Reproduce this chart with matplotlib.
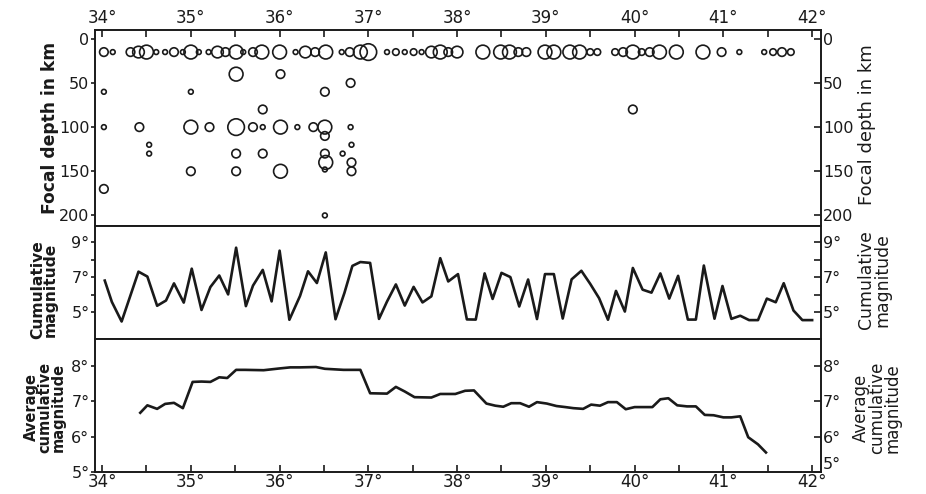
import numpy as np
import matplotlib
matplotlib.use("Agg")
import matplotlib.pyplot as plt
from matplotlib.ticker import MultipleLocator, FixedLocator, FuncFormatter

# ---- top panel: events (longitude, focal depth km, magnitude class) ----
shallow_lon = [34.02, 34.12, 34.32, 34.41, 34.50, 34.61, 34.71, 34.81, 34.91, 35.00,
               35.09, 35.20, 35.30, 35.39, 35.51, 35.59, 35.70, 35.80, 36.00, 36.18,
               36.29, 36.40, 36.52, 36.70, 36.79, 36.91, 37.00, 37.21, 37.31, 37.41,
               37.51, 37.60, 37.71, 37.81, 37.90, 38.00, 38.29, 38.49, 38.59, 38.69,
               38.78, 38.99, 39.09, 39.27, 39.38, 39.50, 39.58, 39.78, 39.87, 39.98,
               40.08, 40.17, 40.28, 40.47, 40.77, 40.98, 41.18, 41.46, 41.56, 41.66,
               41.76]
shallow_mag = [5.5, 4.5, 5.5, 6.0, 6.5, 4.5, 4.5, 5.5, 4.5, 6.5,
               4.5, 4.5, 6.0, 5.5, 6.5, 4.5, 5.5, 6.5, 6.5, 4.5,
               6.0, 5.5, 6.5, 4.5, 5.5, 6.5, 7.0, 4.5, 5.0, 4.5,
               5.0, 4.5, 6.0, 6.5, 5.5, 6.0, 6.5, 6.5, 6.5, 5.5,
               5.5, 6.5, 6.5, 6.5, 6.5, 5.0, 5.0, 5.0, 5.5, 6.5,
               5.0, 5.5, 6.5, 6.5, 6.5, 5.5, 4.5, 4.5, 5.0, 5.5,
               5.0]
shallow_depth = [15] * len(shallow_lon)

deep_lon = [34.02, 34.02, 34.02, 34.42, 34.53, 34.53, 35.00, 35.00, 35.21, 35.00,
            35.51, 35.51, 35.51, 35.51, 35.70, 35.81, 35.81, 35.81, 36.01, 36.01,
            36.01, 36.20, 36.38, 36.51, 36.51, 36.51, 36.51, 36.52, 36.51, 36.51,
            36.71, 36.80, 36.80, 36.81, 36.81, 36.81, 39.98]
deep_depth = [60, 100, 170, 100, 120, 130, 60, 100, 100, 150,
              40, 100, 130, 150, 100, 80, 100, 130, 40, 100,
              150, 100, 100, 100, 110, 60, 130, 140, 148, 200,
              130, 50, 100, 120, 140, 150, 80]
deep_mag = [4.5, 4.5, 5.5, 5.5, 4.5, 4.5, 4.5, 6.5, 5.5, 5.5,
            6.5, 7.0, 5.5, 5.5, 5.5, 5.5, 4.5, 5.5, 5.5, 6.5,
            6.5, 4.5, 5.5, 6.5, 5.5, 5.5, 5.5, 6.5, 4.5, 4.5,
            4.5, 5.5, 4.5, 4.5, 5.5, 5.5, 5.5]

# ---- middle panel: cumulative magnitude ----
cum_lon = [34.03, 34.11, 34.22, 34.41, 34.51, 34.62, 34.72, 34.81, 34.92, 35.01,
           35.12, 35.22, 35.32, 35.42, 35.51, 35.62, 35.70, 35.81, 35.91, 36.00,
           36.11, 36.23, 36.32, 36.42, 36.52, 36.63, 36.73, 36.82, 36.91, 37.02,
           37.12, 37.21, 37.31, 37.41, 37.51, 37.61, 37.71, 37.81, 37.90, 38.01,
           38.11, 38.21, 38.31, 38.40, 38.50, 38.60, 38.70, 38.80, 38.90, 38.99,
           39.09, 39.19, 39.29, 39.40, 39.50, 39.60, 39.70, 39.79, 39.89, 39.98,
           40.09, 40.19, 40.29, 40.39, 40.49, 40.60, 40.69, 40.78, 40.90, 40.99,
           41.09, 41.19, 41.29, 41.39, 41.49, 41.59, 41.68, 41.79, 41.89, 42.00]
cum_mag = [6.82, 5.60, 4.48, 7.33, 7.05, 5.38, 5.68, 6.66, 5.56, 7.50,
           5.14, 6.45, 7.11, 6.03, 8.70, 5.36, 6.53, 7.43, 5.63, 8.53,
           4.58, 5.94, 7.35, 6.68, 8.43, 4.61, 6.11, 7.66, 7.88, 7.83,
           4.63, 5.62, 6.60, 5.39, 6.46, 5.57, 5.92, 8.10, 6.77, 7.19,
           4.60, 4.59, 7.23, 5.77, 7.26, 7.02, 5.34, 6.88, 4.62, 7.19,
           7.19, 4.65, 6.89, 7.38, 6.63, 5.81, 4.58, 6.23, 5.05, 7.54,
           6.30, 6.13, 7.23, 5.79, 7.09, 4.59, 4.59, 7.68, 4.64, 6.51,
           4.63, 4.81, 4.56, 4.56, 5.79, 5.58, 6.67, 5.11, 4.56, 4.56]

# ---- bottom panel: average cumulative magnitude ----
avg_lon = [34.43, 34.51, 34.62, 34.71, 34.81, 34.91, 35.02, 35.12, 35.22, 35.32,
           35.41, 35.51, 35.61, 35.82, 36.00, 36.12, 36.23, 36.41, 36.51, 36.72,
           36.91, 37.02, 37.21, 37.31, 37.41, 37.52, 37.71, 37.81, 37.98, 38.09,
           38.19, 38.33, 38.43, 38.52, 38.61, 38.71, 38.81, 38.90, 39.01, 39.12,
           39.22, 39.31, 39.42, 39.51, 39.61, 39.70, 39.80, 39.90, 40.00, 40.10,
           40.20, 40.29, 40.38, 40.48, 40.59, 40.69, 40.79, 40.89, 41.00, 41.09,
           41.19, 41.28, 41.39, 41.48]
avg_mag = [6.67, 6.88, 6.78, 6.92, 6.95, 6.80, 7.54, 7.55, 7.54, 7.67,
           7.65, 7.88, 7.88, 7.87, 7.92, 7.95, 7.95, 7.96, 7.91, 7.88,
           7.88, 7.22, 7.21, 7.40, 7.27, 7.11, 7.10, 7.20, 7.20, 7.29,
           7.30, 6.93, 6.87, 6.84, 6.94, 6.94, 6.84, 6.97, 6.93, 6.86,
           6.83, 6.80, 6.78, 6.90, 6.87, 6.97, 6.97, 6.77, 6.83, 6.83,
           6.83, 7.05, 7.08, 6.88, 6.85, 6.85, 6.61, 6.60, 6.54, 6.54,
           6.57, 5.98, 5.78, 5.55]

lon_ticks = [34, 35, 36, 37, 38, 39, 40, 41, 42]

plt.rcParams['font.family'] = ['DejaVu Sans']
plt.rcParams['axes.linewidth'] = 1.4
for k in ['xtick.major.width', 'ytick.major.width', 'xtick.minor.width', 'ytick.minor.width']:
    plt.rcParams[k] = 1.2

INK = '#1a1a1a'
FS = 12     # x tick labels
YFS = 11.5  # y tick labels


def deg(v, pos=None):
    return f"{v:g}°"


def marker_area(mags):
    # circle radius in pixels for each magnitude class
    r_px = np.interp(mags, [4.5, 5.0, 5.5, 6.0, 6.5, 7.0], [2.4, 3.3, 4.3, 5.8, 6.9, 8.3])
    diam_pt = 2 * r_px * 0.72
    return diam_pt ** 2


def right_axis(ax, ticks, minor, fmt):
    r = ax.twinx()
    r.set_ylim(ax.get_ylim())
    r.yaxis.set_major_locator(FixedLocator(ticks))
    if minor:
        r.yaxis.set_minor_locator(FixedLocator(minor))
    if fmt:
        r.yaxis.set_major_formatter(FuncFormatter(fmt))
    r.tick_params(axis='y', which='both', direction='in', length=5, pad=1.5,
                  labelsize=YFS, colors=INK)
    for s in r.spines.values():
        s.set_visible(False)
    return r


W_PX, H_PX = 926.0, 494.0


def side_label(x, y, text, size, weight):
    fig.text(x / W_PX, 1 - y / H_PX, text, rotation=90, ha='center', va='center',
             fontsize=size, fontweight=weight, linespacing=0.85, color=INK)


fig = plt.figure(figsize=(9.26, 4.94), dpi=100)
L, W = 95 / W_PX, (821 - 95) / W_PX
ax1 = fig.add_axes([L, 1 - 226 / H_PX, W, 196 / H_PX])
ax2 = fig.add_axes([L, 1 - 339 / H_PX, W, 113 / H_PX])
ax3 = fig.add_axes([L, 1 - 472 / H_PX, W, 133 / H_PX])

for ax in (ax1, ax2, ax3):
    ax.set_xlim(33.92, 42.1)
    for s in ax.spines.values():
        s.set_color(INK)

# ---- top panel ----
ax1.scatter(shallow_lon, shallow_depth, s=marker_area(shallow_mag),
            facecolors='none', edgecolors=INK, linewidths=1.2, clip_on=False)
ax1.scatter(deep_lon, deep_depth, s=marker_area(deep_mag),
            facecolors='none', edgecolors=INK, linewidths=1.2, clip_on=False)
ax1.set_ylim(212, -10)
ax1.yaxis.set_major_locator(FixedLocator([0, 50, 100, 150, 200]))
ax1.xaxis.set_major_locator(FixedLocator(lon_ticks))
ax1.xaxis.set_minor_locator(MultipleLocator(0.5))
ax1.xaxis.set_major_formatter(FuncFormatter(deg))
ax1.tick_params(axis='x', which='both', direction='in', top=True, bottom=False,
                labeltop=True, labelbottom=False, length=5, pad=2,
                labelsize=FS, colors=INK)
right_axis(ax1, [0, 50, 100, 150, 200], None, None)

# ---- middle panel ----
ax2.plot(cum_lon, cum_mag, color=INK, lw=1.9)
ax2.set_ylim(3.48, 9.94)
ax2.yaxis.set_major_locator(FixedLocator([5, 7, 9]))
ax2.yaxis.set_minor_locator(FixedLocator([6, 8]))
ax2.yaxis.set_major_formatter(FuncFormatter(deg))
ax2.tick_params(axis='x', which='both', bottom=False, top=False, labelbottom=False)
right_axis(ax2, [5, 7, 9], [6, 8], deg)

# ---- bottom panel ----
ax3.plot(avg_lon, avg_mag, color=INK, lw=1.9)
ax3.set_ylim(5.0, 8.75)
ax3.yaxis.set_major_locator(FixedLocator([5, 6, 7, 8]))
ax3.yaxis.set_major_formatter(FuncFormatter(deg))
ax3.xaxis.set_major_locator(FixedLocator(lon_ticks))
ax3.xaxis.set_minor_locator(MultipleLocator(0.5))
ax3.xaxis.set_major_formatter(FuncFormatter(deg))
ax3.tick_params(axis='x', which='both', direction='in', bottom=True, top=False,
                length=5, pad=1, labelsize=FS, colors=INK)
r3 = right_axis(ax3, [5, 6, 7, 8], None, deg)

# left ticks point outwards
for ax in (ax1, ax2, ax3):
    ax.tick_params(axis='y', which='both', direction='out', left=True, right=False,
                   labelleft=True, labelright=False, length=3, pad=1,
                   labelsize=YFS, colors=INK)

# lift the lowest right-hand label so it clears the 42° label
r3.yaxis.get_major_ticks()[0].label2.set_va('bottom')

# axis titles, bold on the left, plain on the right
side_label(50, 128, 'Focal depth in km', 12.3, 'bold')
side_label(44, 290, 'Cumulative\nmagnitude', 11.2, 'bold')
side_label(45, 407, 'Average\ncumulative\nmagnitude', 10.5, 'bold')
side_label(867, 125, 'Focal depth in km', 13.0, 'normal')
side_label(874, 280, 'Cumulative\nmagnitude', 12.4, 'normal')
side_label(877, 408, 'Average\ncumulative\nmagnitude', 12.0, 'normal')

fig.savefig('out.png', dpi=100, facecolor='white')
